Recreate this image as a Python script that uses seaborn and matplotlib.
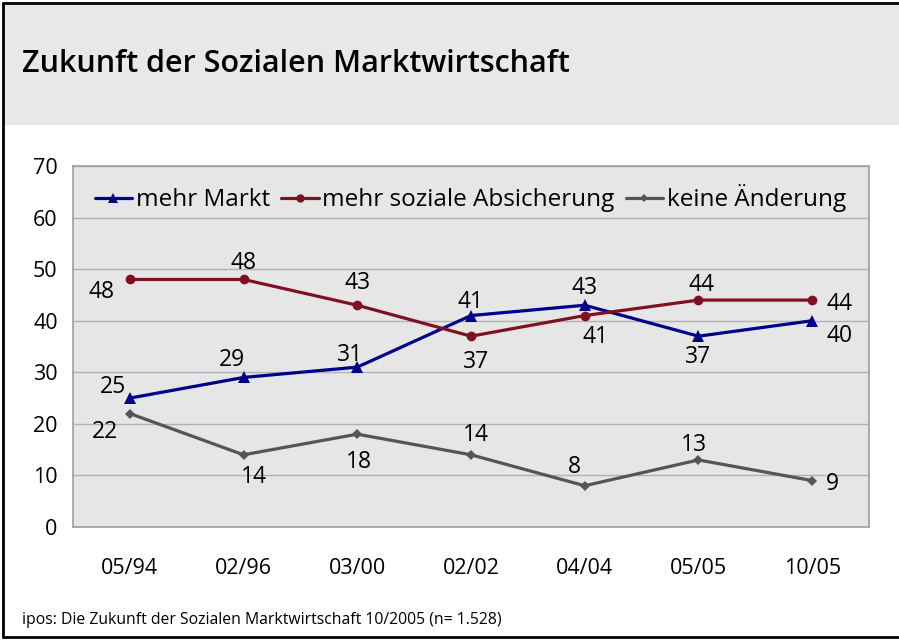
import matplotlib
matplotlib.use("Agg")
import matplotlib.pyplot as plt
from matplotlib.lines import Line2D
from matplotlib.patches import Rectangle
import pandas as pd
import seaborn as sns

# Daten
zeitpunkte = ["05/94", "02/96", "03/00", "02/02", "04/04", "05/05", "10/05"]
mehr_markt = [25, 29, 31, 41, 43, 37, 40]
mehr_soziale = [48, 48, 43, 37, 41, 44, 44]
keine_aenderung = [22, 14, 18, 14, 8, 13, 9]
serien_namen = ["mehr Markt", "mehr soziale Absicherung", "keine Änderung"]

TITEL = "Zukunft der Sozialen Marktwirtschaft"
QUELLE = "ipos: Die Zukunft der Sozialen Marktwirtschaft 10/2005 (n= 1.528)"

# Darstellung
farben = ["#00008c", "#7f1022", "#555555"]
marker = ["^", "o", "D"]
marker_groesse = [8, 7, 5.5]
# Versatz der Datenbeschriftungen in Pixeln (dx, dy nach oben)
versatz = [
    [(-17, 11), (-12, 17), (-7, 12), (0, 14), (0, 17), (0, -21), (27, -15)],
    [(-28, -13), (0, 16), (0, 22), (5, -26), (11, -21), (3, 15), (27, -4)],
    [(-25, -18), (10, -22), (2, -28), (5, 20), (-10, 19), (-4, 15), (20, -3)],
]


def main() -> None:
    sns.set_theme(style="white")
    plt.rcParams["font.family"] = ["Open Sans", "DejaVu Sans"]
    plt.rcParams["text.color"] = "black"
    plt.rcParams["xtick.color"] = "black"
    plt.rcParams["ytick.color"] = "black"

    df = pd.DataFrame({
        "pos": list(range(len(zeitpunkte))) * 3,
        "wert": mehr_markt + mehr_soziale + keine_aenderung,
        "serie": sum([[n] * len(zeitpunkte) for n in serien_namen], []),
    })

    fig = plt.figure(figsize=(8.99, 6.40), dpi=100)
    fig.patch.set_facecolor("white")

    # grauer Kopfbereich + Rahmen
    fig.add_artist(Rectangle((5 / 899, 1 - 125 / 640), 1, 120 / 640,
                             transform=fig.transFigure, facecolor="#e8e8e8", edgecolor="none", zorder=0))
    for xs, ys in [((3 / 899, 3 / 899), (3 / 640, 637 / 640)),
                   ((3 / 899, 1), (637 / 640, 637 / 640)),
                   ((3 / 899, 1), (3 / 640, 3 / 640))]:
        fig.add_artist(Line2D(xs, ys, transform=fig.transFigure, color="black", lw=2))

    fig.text(22 / 899, 1 - 64 / 640, TITEL, fontsize=22, va="center", ha="left",
             fontweight="semibold", color="black")
    fig.text(22 / 899, 1 - 620 / 640, QUELLE, fontsize=11.3, va="center", ha="left",
             color="black")

    ax = fig.add_axes([73 / 899, 1 - 527 / 640, 796 / 899, 361 / 640])
    ax.set_facecolor("#e6e6e6")

    sns.lineplot(data=df, x="pos", y="wert", hue="serie", style="serie",
                 hue_order=serien_namen, style_order=serien_namen,
                 palette=farben, markers=marker, dashes=False,
                 linewidth=2.3, markersize=8, markeredgewidth=0, ax=ax, legend=False)

    for line, ms in zip(ax.lines, marker_groesse):
        line.set_markersize(ms)

    werte = [mehr_markt, mehr_soziale, keine_aenderung]
    for serie, off in zip(werte, versatz):
        for i, (v, (dx, dy)) in enumerate(zip(serie, off)):
            ax.annotate(str(v), (i, v), xytext=(dx, dy), textcoords="offset pixels",
                        ha="center", va="center", fontsize=16.5, color="black")

    ax.set_xlim(-0.5, len(zeitpunkte) - 0.5)
    ax.set_ylim(0, 70)
    ax.set_yticks(range(0, 71, 10))
    ax.set_xticks(range(len(zeitpunkte)))
    ax.set_xticklabels(zeitpunkte)
    ax.tick_params(axis="y", length=0, pad=11, labelsize=15.5)
    ax.tick_params(axis="x", length=0, pad=22, labelsize=15.5)
    ax.set_xlabel("")
    ax.set_ylabel("")
    ax.yaxis.grid(True, color="#b2b2b2", linewidth=1)
    ax.set_axisbelow(True)
    for s in ax.spines.values():
        s.set_color("#a0a0a0")
        s.set_linewidth(1.2)

    handles = [Line2D([], [], color=c, marker=m, markersize=ms, markeredgewidth=0, lw=2.3)
               for c, m, ms in zip(farben, marker, [7, 6, 4.5])]
    ax.legend(handles, serien_namen, loc="center left", bbox_to_anchor=(0.015, 0.911),
              ncol=3, frameon=False, fontsize=17.5, handlelength=1.55, handletextpad=0.15,
              columnspacing=0.45, borderaxespad=0)

    fig.savefig("out.png", dpi=100)
    plt.close(fig)


if __name__ == "__main__":
    main()
